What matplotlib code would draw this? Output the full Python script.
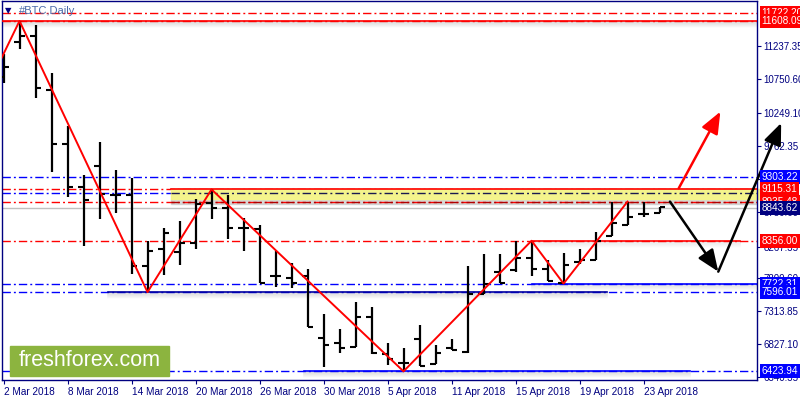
import matplotlib.pyplot as plt
from matplotlib.patches import Rectangle

plt.rcParams['font.family'] = ['Liberation Sans', 'DejaVu Sans']
plt.rcParams['lines.scale_dashes'] = False

# x tick labels, one every 4 bars
date_labels = ['2 Mar 2018', '8 Mar 2018', '14 Mar 2018', '20 Mar 2018', '26 Mar 2018',
               '30 Mar 2018', '5 Apr 2018', '11 Apr 2018', '15 Apr 2018', '19 Apr 2018',
               '23 Apr 2018']

# daily OHLC bars
opens = [10780, 11301, 11385, 10587, 9788, 9156, 9467, 9038, 9038, 7988,
         8231, 8195, 8328, 8920, 8837, 8541, 8526, 7836, 7811, 7836,
         6923, 6840, 6790, 7234, 6682, 6553, 6899, 6530, 6766, 6716,
         7569, 7899, 7924, 8106, 7934, 7728, 8047, 8072, 8427, 8590,
         8748, 8763]
highs = [11119, 11607, 11548, 10842, 10054, 9329, 9813, 9403, 9280, 8358,
         8541, 8654, 8974, 9115, 9034, 8698, 8590, 8206, 8032, 7934,
         7269, 7047, 7446, 7372, 6849, 6775, 7106, 6815, 6899, 7988,
         8156, 8156, 8353, 8356, 8077, 8171, 8230, 8491, 8930, 8935,
         8930, 8852]
lows = [10690, 11193, 10468, 9378, 9004, 8284, 8674, 8772, 7865, 7596,
        7846, 7994, 8239, 8683, 8387, 8210, 7728, 7668, 7653, 7086,
        6494, 6692, 6790, 6677, 6519, 6424, 6504, 6530, 6741, 6701,
        7569, 7728, 7899, 7836, 7766, 7722, 8013, 8072, 8427, 8590,
        8713, 8763]
closes = [10927, 11385, 10620, 9783, 9156, 8959, 9048, 9038, 7988, 8210,
          8467, 8319, 8900, 8846, 8541, 8541, 7737, 7836, 7728, 7086,
          6815, 6766, 7234, 6692, 6603, 6553, 6504, 6692, 6741, 7565,
          7713, 7728, 8106, 7934, 7766, 7999, 8072, 8358, 8615, 8713,
          8748, 8852]

# price axis ticks
tick_prices = [11237.35, 10750.60, 10249.10, 9762.35, 9275.60, 8780.60,
               8267.35, 7800.60, 7313.85, 6827.10, 6340.35]

# horizontal levels with their price-scale labels
level_prices = [11722.20, 11608.09, 9303.22, 9115.31, 8935.48, 8843.62,
                8356.00, 7722.31, 7596.01, 6423.94]
level_colors = ['red', 'red', 'blue', 'red', 'red', '#000080',
                'red', 'blue', 'blue', 'blue']
mid_zone = 9060
zone_low = 8970

# red zigzag
zigzag_x = [-1, 1, 9, 13, 25, 33, 35, 39]
zigzag_y = [10630, 11608.09, 7596.01, 9115.31, 6423.94, 8356.00, 7722.31, 8935.48]

# scenario arrows (bar index, price)
red_arrow = [(42.2, 9133), (44.8, 10266)]
black_down = [(41.65, 8935), (44.67, 7899)]
black_up = [(44.67, 7899), (48.6, 10098)]

navy = '#000080'
px = 14.795  # price per pixel
dashdot = (0, (6, 2.2, 1.4, 2.2))

fig = plt.figure(figsize=(8, 4), dpi=100)
ax = fig.add_axes([2 / 800, 20 / 400, 755 / 800, 379 / 400])
xmin, xmax = -0.094, 47.09
ax.set_xlim(xmin, xmax)
ax.set_ylim(6295.8, 11903.1)


def shadow(x0, x1, price, depth=6, strength=0.5):
    for k in range(1, depth + 1):
        y = price - k * px
        ax.plot([x0, x1], [y, y], color='gray', lw=1.2,
                alpha=strength * (depth - k + 1) / depth * 0.35, zorder=1)


# full width dash-dot levels
for p, c in zip(level_prices, level_colors):
    if p == 8843.62:
        ax.axhline(p, color='#c0c0c0', lw=1, zorder=1)
    else:
        ax.axhline(p, color=c, lw=1, linestyle=dashdot, zorder=2)
ax.axhline(mid_zone, color='blue', lw=1, linestyle=dashdot, zorder=2)

# solid line at the top
ax.axhline(11608.09, color='red', lw=1.2, zorder=3)
shadow(xmin, xmax, 11608.09)

# yellow resistance zone
ax.add_patch(Rectangle((10.45, zone_low), xmax + 0.4 - 10.45, 9115.31 - zone_low,
                       color='#f4f48c', zorder=2, clip_on=False))
ax.add_patch(Rectangle((10.45, 8905), xmax + 0.4 - 10.45, zone_low - 8905,
                       color='#c8c8c8', alpha=0.7, zorder=1))
ax.plot([10.45, xmax], [9115.31, 9115.31], color='red', lw=1.2, zorder=3)
ax.plot([10.45, xmax], [mid_zone, mid_zone], color='#1a1a50', lw=1, linestyle=dashdot, zorder=3)
ax.plot([10.45, xmax], [8935.48, 8935.48], color='#b00000', lw=1, linestyle=dashdot, zorder=3)

# solid segments
ax.plot([33, 46.0], [8356.00, 8356.00], color='red', lw=1.2, zorder=3)
shadow(33, 46.0, 8356.00, strength=0.3)
ax.plot([33, xmax], [7722.31, 7722.31], color='blue', lw=1.2, zorder=3)
shadow(33, xmax, 7722.31, strength=0.4)
ax.plot([6.5, 37.7], [7596.01, 7596.01], color='#0000a0', lw=1.2, zorder=3)
shadow(6.5, 37.7, 7596.01)
ax.plot([18.8, 42.9], [6423.94, 6423.94], color='blue', lw=1.2, zorder=3)
shadow(18.8, 42.9, 6423.94)

# OHLC bars
xs = range(len(opens))
ax.vlines(xs, lows, highs, color='black', lw=1.6, zorder=4)
ax.hlines(opens, [x - 0.33 for x in xs], xs, color='black', lw=1.5, zorder=4)
ax.hlines(closes, xs, [x + 0.33 for x in xs], color='black', lw=1.5, zorder=4)

# zigzag
ax.plot(zigzag_x, zigzag_y, color='red', lw=1.4, zorder=5)

# arrows
for (a, b), col in [(red_arrow, 'red'), (black_down, 'black'), (black_up, 'black')]:
    ax.annotate('', xy=b, xytext=a, annotation_clip=False, zorder=6,
                arrowprops=dict(arrowstyle='-|>,head_length=1.1,head_width=0.45',
                                color=col, lw=1.8, mutation_scale=12,
                                shrinkA=0, shrinkB=0))

# axes frame
for s in ax.spines.values():
    s.set_color(navy)
    s.set_linewidth(1)

ax.set_xticks(range(0, 41, 4))
ax.set_xticklabels(date_labels)
for lbl in ax.get_xticklabels():
    lbl.set_horizontalalignment('left')
ax.tick_params(axis='x', direction='out', length=3, color=navy, labelcolor=navy,
               labelsize=7.2, pad=2)

ax.yaxis.tick_right()
ax.set_yticks(tick_prices)
ax.set_yticklabels(['%.2f' % t for t in tick_prices])
ax.tick_params(axis='y', direction='out', length=3, color=navy, labelcolor=navy,
               labelsize=7, pad=1.5)

# price labels for the levels
for p, c in zip(level_prices, level_colors):
    ax.annotate('%.2f' % p, xy=(1, p), xycoords=ax.get_yaxis_transform(),
                xytext=(3.4, 0), textcoords='offset points', ha='left', va='center',
                fontsize=7.2, color='white', annotation_clip=False, zorder=7,
                bbox=dict(boxstyle='square,pad=0.2', fc=c, ec='none'))

# chart title
fig.text(5 / 800, 1 - 11 / 400, '\u25bc', fontsize=6, color=navy, va='center',
         family=['DejaVu Sans'])
fig.text(19 / 800, 1 - 11 / 400, '#BTC,Daily', fontsize=8, color='#4a6aa8', va='center')

# logo
fig.add_artist(Rectangle((10 / 800, 24 / 400), 159 / 800, 30 / 400,
                         transform=fig.transFigure, color='#8cb43f', zorder=8))
fig.text(89.5 / 800, 1 - 361 / 400, 'freshforex.com', fontsize=15.5, color='white',
         ha='center', va='center', zorder=9)

fig.savefig('out.png', dpi=100, facecolor='white')
